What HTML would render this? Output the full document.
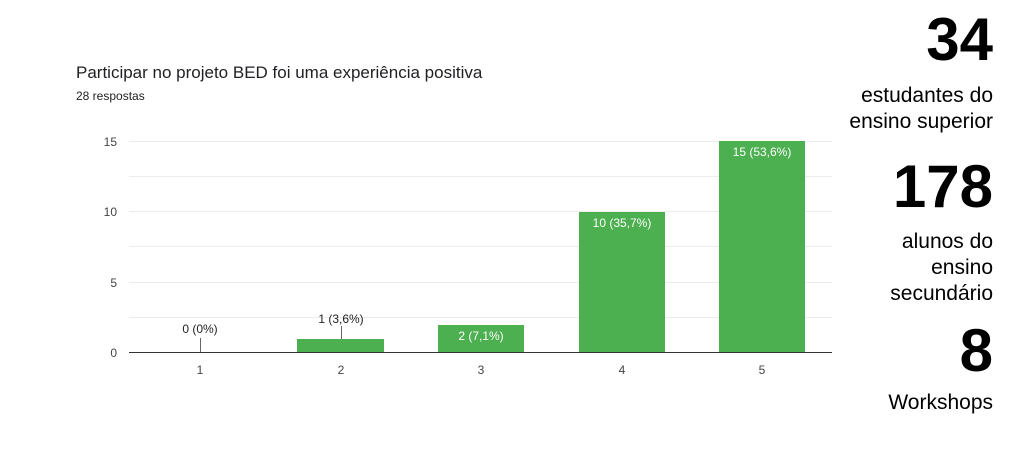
<!DOCTYPE html>
<html><head><meta charset="utf-8"><style>
body{margin:0;background:#fff;width:1024px;height:456px;overflow:hidden;font-family:"Liberation Sans",sans-serif}
</style></head><body>
<svg width="1024" height="456" xmlns="http://www.w3.org/2000/svg" font-family="Liberation Sans, sans-serif">
<rect width="1024" height="456" fill="#fff"/>
<text x="76" y="78" font-size="17" fill="#202124">Participar no projeto BED foi uma experiência positiva</text>
<text x="76" y="100" font-size="12" fill="#202124">28 respostas</text>
<g stroke="#ececec" stroke-width="1">
<line x1="129" y1="141.5" x2="832" y2="141.5"/>
<line x1="129" y1="176.5" x2="832" y2="176.5"/>
<line x1="129" y1="211.5" x2="832" y2="211.5"/>
<line x1="129" y1="246.5" x2="832" y2="246.5"/>
<line x1="129" y1="282.5" x2="832" y2="282.5"/>
<line x1="129" y1="317.5" x2="832" y2="317.5"/>
</g>
<g font-size="12" fill="#444" text-anchor="end">
<text x="117" y="146">15</text><text x="117" y="216">10</text>
<text x="117" y="287">5</text><text x="117" y="357">0</text>
</g>
<g fill="#4caf50">
<rect x="297" y="339" width="87" height="14"/>
<rect x="438" y="325" width="86" height="28"/>
<rect x="579" y="212" width="86" height="141"/>
<rect x="719" y="141" width="86" height="212"/>
</g>
<line x1="129" y1="352.5" x2="832" y2="352.5" stroke="#333" stroke-width="1"/>
<g stroke="#666" stroke-width="1">
<line x1="200.5" y1="338" x2="200.5" y2="352"/>
<line x1="341.5" y1="326" x2="341.5" y2="339"/>
</g>
<g font-size="12" text-anchor="middle">
<text x="200" y="333" fill="#222">0 (0%)</text>
<text x="341" y="323" fill="#222">1 (3,6%)</text>
<text x="481" y="340" fill="#fff">2 (7,1%)</text>
<text x="622" y="227" fill="#fff">10 (35,7%)</text>
<text x="762" y="156" fill="#fff">15 (53,6%)</text>
</g>
<g font-size="12" fill="#444" text-anchor="middle">
<text x="200" y="374">1</text><text x="341" y="374">2</text><text x="481" y="374">3</text>
<text x="622" y="374">4</text><text x="762" y="374">5</text>
</g>
<g text-anchor="end" fill="#000">
<text x="993" y="60" font-size="60" font-weight="bold">34</text>
<text x="993" y="102" font-size="21">estudantes do</text>
<text x="993" y="128" font-size="21">ensino superior</text>
<text x="993" y="207" font-size="60" font-weight="bold">178</text>
<text x="993" y="248" font-size="21">alunos do</text>
<text x="993" y="274" font-size="21">ensino</text>
<text x="993" y="300" font-size="21">secundário</text>
<text x="993" y="371" font-size="60" font-weight="bold">8</text>
<text x="993" y="409" font-size="21">Workshops</text>
</g>
</svg>
</body></html>
